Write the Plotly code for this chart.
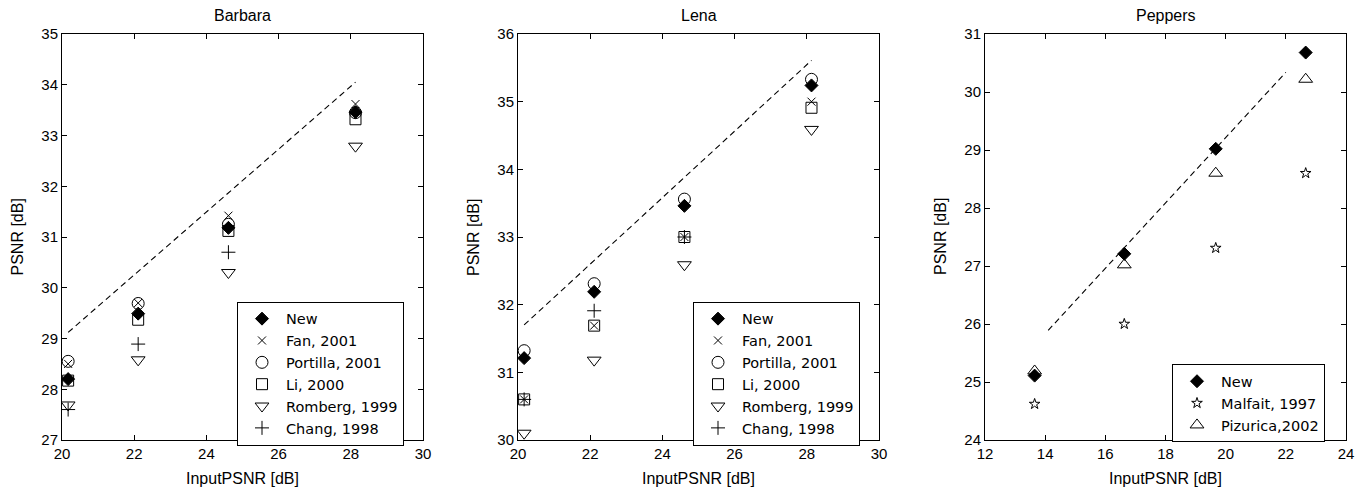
import plotly.graph_objects as go

# ---------------- data ----------------
input_psnr_bl = [20.17, 22.11, 24.61, 28.13]

barbara_new = [28.20, 29.49, 31.18, 33.46]
barbara_fan = [28.50, 29.70, 31.42, 33.62]
barbara_portilla = [28.55, 29.69, 31.25, 33.45]
barbara_li = [28.17, 29.37, 31.12, 33.32]
barbara_romberg = [27.69, 28.58, 30.30, 32.79]
barbara_chang = [27.60, 28.89, 30.70, None]
barbara_dash_x = [20.17, 28.13]
barbara_dash_y = [29.12, 34.05]

lena_new = [31.21, 32.19, 33.46, 35.24]
lena_fan = [30.60, 31.69, 33.00, 35.00]
lena_portilla = [31.32, 32.31, 33.56, 35.33]
lena_li = [30.60, 31.69, 33.00, 34.91]
lena_romberg = [30.10, 31.18, 32.59, 34.59]
lena_chang = [30.60, 31.91, 33.00, None]
lena_dash_x = [20.17, 28.13]
lena_dash_y = [31.70, 35.61]

input_psnr_pep = [13.65, 16.63, 19.67, 22.66]
peppers_new = [25.11, 27.21, 29.02, 30.68]
peppers_malfait = [24.62, 26.00, 27.31, 28.60]
peppers_pizurica = [25.19, 27.02, 28.60, 30.22]
peppers_dash_x = [14.10, 22.00]
peppers_dash_y = [25.89, 30.34]

panel_titles = ["Barbara", "Lena", "Peppers"]
x_title = "InputPSNR [dB]"
y_title = "PSNR [dB]"

# ---------------- figure ----------------
W, H = 1372, 491
FONT = "Arial, Liberation Sans, Helvetica, sans-serif"
LEG_FONT = "DejaVu Sans, Arial, sans-serif"
BLACK = "#000000"

fig = go.Figure()

def add_marker(x, y, name, symbol, size, xa, ya, legend):
    mk = dict(symbol=symbol, size=size, color=BLACK,
              line=dict(color=BLACK, width=1))
    fig.add_trace(go.Scatter(x=x, y=y, mode="markers", name=name, marker=mk,
                             xaxis=xa, yaxis=ya, legend=legend, showlegend=True))

def add_dash(x, y, xa, ya):
    fig.add_trace(go.Scatter(x=x, y=y, mode="lines", showlegend=False,
                             line=dict(color=BLACK, width=1.1, dash="6px,4px"),
                             xaxis=xa, yaxis=ya))

add_dash(barbara_dash_x, barbara_dash_y, "x", "y")
add_marker(input_psnr_bl, barbara_new, "New", "diamond", 10, "x", "y", "legend")
add_marker(input_psnr_bl, barbara_fan, "Fan, 2001", "x-thin-open", 8, "x", "y", "legend")
add_marker(input_psnr_bl, barbara_portilla, "Portilla, 2001", "circle-open", 12, "x", "y", "legend")
add_marker(input_psnr_bl, barbara_li, "Li, 2000", "square-open", 11, "x", "y", "legend")
add_marker(input_psnr_bl, barbara_romberg, "Romberg, 1999", "triangle-down-open", 12, "x", "y", "legend")
add_marker(input_psnr_bl, barbara_chang, "Chang, 1998", "cross-thin-open", 10, "x", "y", "legend")

add_dash(lena_dash_x, lena_dash_y, "x2", "y2")
add_marker(input_psnr_bl, lena_new, "New", "diamond", 10, "x2", "y2", "legend2")
add_marker(input_psnr_bl, lena_fan, "Fan, 2001", "x-thin-open", 8, "x2", "y2", "legend2")
add_marker(input_psnr_bl, lena_portilla, "Portilla, 2001", "circle-open", 12, "x2", "y2", "legend2")
add_marker(input_psnr_bl, lena_li, "Li, 2000", "square-open", 11, "x2", "y2", "legend2")
add_marker(input_psnr_bl, lena_romberg, "Romberg, 1999", "triangle-down-open", 12, "x2", "y2", "legend2")
add_marker(input_psnr_bl, lena_chang, "Chang, 1998", "cross-thin-open", 10, "x2", "y2", "legend2")

add_dash(peppers_dash_x, peppers_dash_y, "x3", "y3")
add_marker(input_psnr_pep, peppers_new, "New", "diamond", 10, "x3", "y3", "legend3")
add_marker(input_psnr_pep, peppers_malfait, "Malfait, 1997", "star-open", 8, "x3", "y3", "legend3")
add_marker(input_psnr_pep, peppers_pizurica, "Pizurica,2002", "triangle-up-open", 12, "x3", "y3", "legend3")

left_px = [62, 518, 985]
right_px = [423, 879, 1346]
top_px, bot_px = 34, 440
ydom = [1 - bot_px / H, 1 - top_px / H]

x_ranges = [[20, 30], [20, 30], [12, 24]]
y_ranges = [[27, 35], [30, 36], [24, 31]]

def axis_common():
    return dict(showline=True, linecolor=BLACK, linewidth=1, mirror="ticks",
                ticks="inside", ticklen=5, tickcolor=BLACK, tickwidth=1,
                showgrid=False, zeroline=False, automargin=False,
                tickfont=dict(family=FONT, size=15, color=BLACK))

layout = dict(template="none", width=W, height=H,
              margin=dict(l=0, r=0, t=0, b=0, pad=0, autoexpand=False),
              paper_bgcolor="white", plot_bgcolor="white",
              font=dict(family=FONT, color=BLACK))
for i in range(3):
    sfx = "" if i == 0 else str(i + 1)
    xa = axis_common()
    xa.update(domain=[left_px[i] / W, right_px[i] / W], range=x_ranges[i],
              dtick=2, anchor="y" + sfx)
    ya = axis_common()
    ya.update(domain=ydom, range=y_ranges[i], dtick=1, anchor="x" + sfx)
    layout["xaxis" + sfx] = xa
    layout["yaxis" + sfx] = ya

legend_common = dict(bgcolor="white", bordercolor=BLACK, borderwidth=1,
                     font=dict(family=LEG_FONT, size=14.5, color=BLACK),
                     xanchor="left", yanchor="top", tracegroupgap=0,
                     itemwidth=38)
layout["legend"] = dict(legend_common, x=237 / W, y=1 - 301.7 / H)
layout["legend2"] = dict(legend_common, x=693 / W, y=1 - 301.7 / H)
layout["legend3"] = dict(legend_common, x=1172 / W, y=1 - 364.3 / H)

annotations = []
ytitle_x = [16.5, 473, 940]
for i in range(3):
    cx = (left_px[i] + right_px[i]) / 2
    annotations.append(dict(text=panel_titles[i], x=cx / W, y=1 - 15 / H,
                            xref="paper", yref="paper", showarrow=False,
                            xanchor="center", yanchor="middle",
                            font=dict(family=FONT, size=16, color=BLACK)))
    annotations.append(dict(text=x_title, x=cx / W, y=1 - 478 / H,
                            xref="paper", yref="paper", showarrow=False,
                            xanchor="center", yanchor="middle",
                            font=dict(family=FONT, size=16, color=BLACK)))
    annotations.append(dict(text=y_title, x=ytitle_x[i] / W,
                            y=1 - (top_px + bot_px) / 2 / H,
                            xref="paper", yref="paper", showarrow=False,
                            textangle=-90, xanchor="center", yanchor="middle",
                            font=dict(family=FONT, size=16, color=BLACK)))
layout["annotations"] = annotations

fig.update_layout(**layout)

page_fix = "document.body.style.margin='0'; document.body.style.overflow='hidden';"
fig.write_html("out.html", config={"displayModeBar": False}, post_script=page_fix)
